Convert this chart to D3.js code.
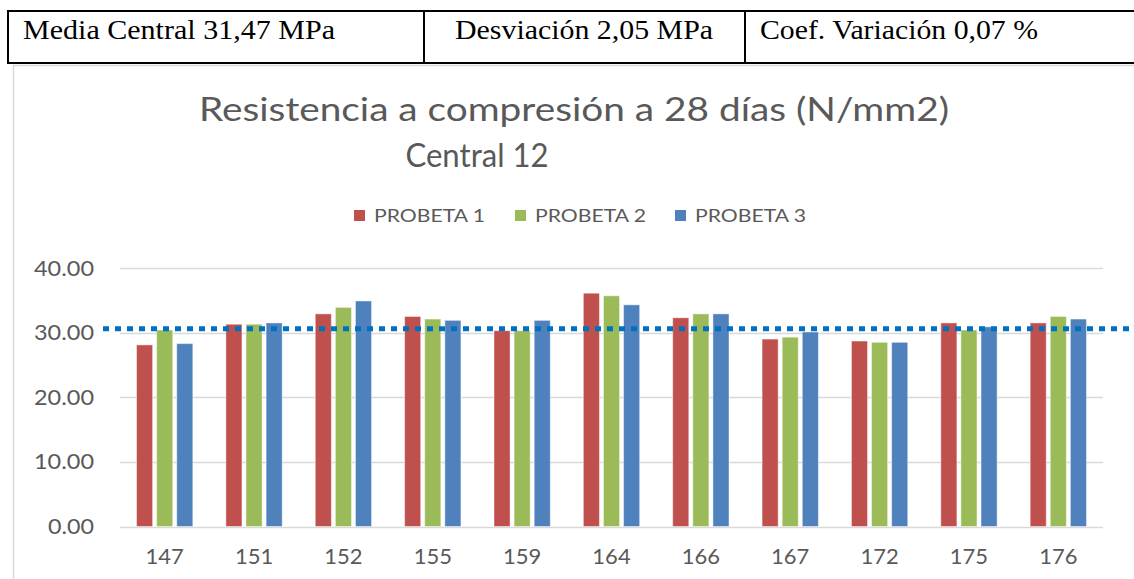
<!DOCTYPE html>
<html><head><meta charset="utf-8">
<script src="https://cdn.jsdelivr.net/npm/d3@7"></script>
<style>body{margin:0;background:#fff}svg{display:block}</style>
</head><body>
<svg id="c" width="1134" height="579"></svg>
<script>
const categories = ["147","151","152","155","159","164","166","167","172","175","176"];
const seriesNames = ["PROBETA 1","PROBETA 2","PROBETA 3"];
const probeta1 = [28.1,31.3,32.9,32.5,30.3,36.1,32.3,29.0,28.7,31.5,31.5];
const probeta2 = [30.4,31.3,33.9,32.1,30.3,35.7,32.9,29.3,28.5,30.4,32.5];
const probeta3 = [28.3,31.5,34.9,31.9,31.9,34.3,32.9,30.1,28.5,30.9,32.1];
const yTicks = [0,10,20,30,40];
const refValue = 30.6;
const tableCells = ["Media Central 31,47 MPa","Desviación 2,05 MPa","Coef. Variación 0,07 %"];
const titleLines = ["Resistencia a compresión a 28 días (N/mm2)","Central 12"];
const colors = ["#C0504D","#9BBB59","#4F81BD"];

const series = [probeta1, probeta2, probeta3];
const svg = d3.select("#c");
const font = "Lato, 'Open Sans', sans-serif";

// Chart area border
svg.append("path").attr("d","M13.5,600 V65.5 H1140").attr("fill","none").attr("stroke","#d9d9d9").attr("stroke-width",1.5);

// Table
const tb = svg.append("g");
tb.append("line").attr("x1",7).attr("x2",1134).attr("y1",11).attr("y2",11).attr("stroke","#000").attr("stroke-width",2);
tb.append("line").attr("x1",7).attr("x2",1134).attr("y1",63).attr("y2",63).attr("stroke","#000").attr("stroke-width",2);
[8,424,745].forEach(x=>tb.append("line").attr("x1",x).attr("x2",x).attr("y1",10).attr("y2",64).attr("stroke","#000").attr("stroke-width",2));
const cellX = [23,455,760], cellW = [312,258,278];
tableCells.forEach((t,i)=>{
  tb.append("text").attr("x",cellX[i]).attr("y",39).text(t)
    .attr("font-family","'Liberation Serif', 'DejaVu Serif', serif").attr("font-size",27)
    .attr("textLength",cellW[i]).attr("lengthAdjust","spacingAndGlyphs").attr("fill","#000");
});

// Title
svg.append("text").attr("x",574).attr("y",121).attr("text-anchor","middle").text(titleLines[0])
  .attr("font-family",font).attr("font-size",32).attr("fill","#595959")
  .attr("textLength",750).attr("lengthAdjust","spacingAndGlyphs");
svg.append("text").attr("x",477).attr("y",167).attr("text-anchor","middle").text(titleLines[1])
  .attr("font-family",font).attr("font-size",32).attr("fill","#595959")
  .attr("textLength",143).attr("lengthAdjust","spacingAndGlyphs");

// Scales
const x0 = d3.scaleBand().domain(categories).range([120,1103]).paddingInner(0.37).paddingOuter(0.185);
const x1 = d3.scaleBand().domain(d3.range(3)).range([0,x0.bandwidth()]).paddingInner(0.2);
const y = d3.scaleLinear().domain([0,40]).range([526.5,268]);

// Gridlines
svg.append("g").selectAll("line").data(yTicks).join("line")
  .attr("x1",120).attr("x2",1103).attr("y1",d=>Math.round(y(d))+0.5).attr("y2",d=>Math.round(y(d))+0.5)
  .attr("stroke","#d9d9d9").attr("stroke-width",1.3);

// Y axis
const yAxis = d3.axisLeft(y).tickValues(yTicks).tickFormat(d3.format(".2f")).tickSize(0).tickPadding(0);
const ya = svg.append("g").attr("transform","translate(94,0)").call(yAxis);
ya.select(".domain").remove();
ya.selectAll("text").attr("font-family",font).attr("font-size",22).attr("fill","#595959")
  .attr("textLength",d=>d>=10?60:46).attr("lengthAdjust","spacingAndGlyphs");

// X axis
const xAxis = d3.axisBottom(x0).tickSize(0).tickPadding(0);
const xa = svg.append("g").attr("transform","translate(0,548)").call(xAxis);
xa.select(".domain").remove();
xa.selectAll("text").attr("font-family",font).attr("font-size",22).attr("fill","#595959");

// Bars
const groups = svg.append("g").selectAll("g").data(categories).join("g")
  .attr("transform",d=>`translate(${x0(d)},0)`);
groups.selectAll("rect").data((d,i)=>series.map((s,k)=>({k,v:s[i]}))).join("rect")
  .attr("x",d=>x1(d.k)).attr("width",x1.bandwidth())
  .attr("y",d=>y(d.v)).attr("height",d=>y(0)-y(d.v))
  .attr("fill",d=>colors[d.k]).attr("stroke","#fff").attr("stroke-opacity",0.45).attr("stroke-width",1);

// Reference dotted line
svg.append("line").attr("x1",103).attr("x2",1134).attr("y1",y(refValue)).attr("y2",y(refValue))
  .attr("stroke","#0070C0").attr("stroke-width",5).attr("stroke-dasharray","6,6");

// Legend
const legX = [354,515,675];
const lg = svg.append("g");
seriesNames.forEach((n,i)=>{
  lg.append("rect").attr("x",legX[i]).attr("y",210).attr("width",11).attr("height",11).attr("fill",colors[i]);
  lg.append("text").attr("x",legX[i]+20).attr("y",222).text(n)
    .attr("font-family",font).attr("font-size",18).attr("fill","#595959")
    .attr("textLength",111).attr("lengthAdjust","spacingAndGlyphs");
});
</script>
</body></html>
